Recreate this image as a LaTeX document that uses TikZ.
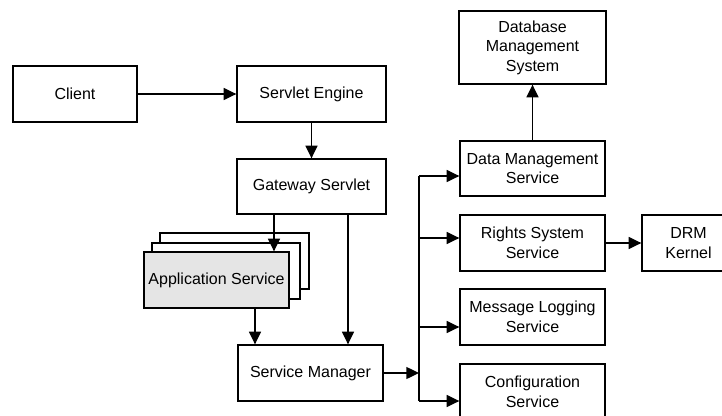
\documentclass[tikz,border=0pt]{standalone}
\usepackage{fontspec}
\setmainfont{Liberation Sans}
\usetikzlibrary{arrows.meta}

\begin{document}
\begin{tikzpicture}[x=0.75pt,y=-0.75pt,
    box/.style={draw,line width=1pt,fill=white,inner sep=0pt,align=center,
                font=\fontsize{12}{14.6}\selectfont},
    sz/.style 2 args={minimum width=#1*0.75pt,minimum height=#2*0.75pt},
    arr/.style={line width=1pt,-{Triangle[length=9.5pt,width=9pt]}}]

  \useasboundingbox (0,0) rectangle (722,415);
  \clip (0,0) rectangle (722,415);

% left column
  \node[box,sz={124}{56}] (client) at (75,94) {Client};
  \node[box,sz={149}{56}] (engine) at (311.5,94) {Servlet Engine};
  \node[box,sz={149}{55}] (gateway) at (311.5,186.5) {Gateway Servlet};

% stacked application services
  \node[box,sz={149}{56}] (app3) at (234.5,261) {};
  \node[box,sz={148}{56}] (app2) at (226,271) {};
  \node[box,fill=gray!20,sz={145}{56}] (app) at (216.5,280) {Application Service};

  \node[box,sz={145}{56}] (manager) at (310.5,373) {Service Manager};

% right column
  \node[box,sz={147}{73}] (db) at (532.5,47.5) {Database\\Management\\System};
  \node[box,sz={145}{55}] (datamgmt) at (532.5,168.5) {Data Management\\Service};
  \node[box,sz={145}{56}] (rights) at (532.5,243) {Rights System\\Service};
  \node[box,sz={145}{56}] (logging) at (532.5,317) {Message Logging\\Service};
  \node[box,sz={145}{56}] (config) at (532.5,392) {Configuration\\Service};
  \node[box,sz={93}{56}] (drm) at (688.5,243) {DRM\\Kernel};

% connectors
  \draw[arr] (client) -- (engine);
  \draw[arr] (engine) -- (gateway);
  \path (gateway.south) ++(-37.5,0) coordinate (gw1);
  \draw[arr] (gw1) -- (gw1 |- app.north);
  \path (gateway.south) ++(36.5,0) coordinate (gw2);
  \draw[arr] (gw2) -- (gw2 |- manager.north);
  \path (app.south) ++(38.5,0) coordinate (as);
  \draw[arr] (as) -- (as |- manager.north);

  \coordinate (bus) at (419,0);
  \draw[arr] (manager.east) -- (manager.east -| bus);
  \foreach \n/\dy [count=\i] in {datamgmt/7.5,rights/-5,logging/10,config/9}{
    \path (\n.west) ++(0,\dy) coordinate (t\i);
    \draw[arr] (t\i -| bus) -- (t\i);
  }
  \draw[line width=1pt] (t1 -| bus) -- (t4 -| bus);

  \draw[arr] (datamgmt) -- (db);
  \draw[arr] (rights) -- (drm);

\end{tikzpicture}
\end{document}
